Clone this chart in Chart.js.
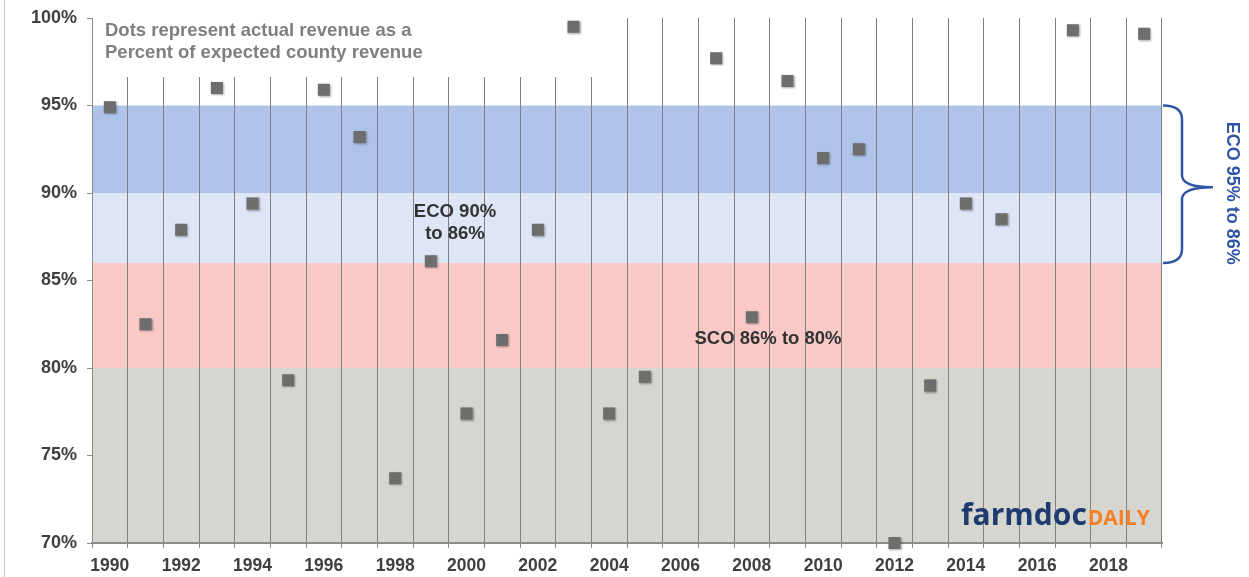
<!DOCTYPE html>
<html>
<head>
<meta charset="utf-8">
<script src="https://cdn.jsdelivr.net/npm/chart.js@4.4.1/dist/chart.umd.min.js"></script>
<style>
  body { margin: 0; background: #fff; }
  #caixa { position: relative; width: 1249px; height: 577px; }
  #moldura { position: absolute; left: 4px; top: 0; width: 1px; height: 577px; background: #c8c8c8; }
</style>
</head>
<body>
<div id="caixa">
  <div id="moldura"></div>
  <canvas id="meuGrafico" width="1249" height="577"></canvas>
</div>
<script>
// anos do eixo x
const anos = ['1990', '1991', '1992', '1993', '1994', '1995', '1996', '1997', '1998', '1999',
  '2000', '2001', '2002', '2003', '2004', '2005', '2006', '2007', '2008', '2009',
  '2010', '2011', '2012', '2013', '2014', '2015', '2016', '2017', '2018', '2019'];

// receita real como % da receita esperada do condado (null = fora do gráfico)
const receita = [94.9, 82.5, 87.9, 96.0, 89.4, 79.3, 95.9, 93.2, 73.7, 86.1,
  77.4, 81.6, 87.9, 99.5, 77.4, 79.5, null, 97.7, 82.9, 96.4,
  92.0, 92.5, 70.0, 79.0, 89.4, 88.5, null, 99.3, null, 99.1];

// faixas de cobertura (topo / base em %)
const faixasTopo = [95, 90, 86, 80];
const faixasBase = [90, 86, 80, 70];
const coresFaixas = ['#adc3e8', '#dde5f6', '#f9c9c6', '#d6d6d1'];

const fonte = '"Liberation Sans", Arial, sans-serif';

// desenha as faixas coloridas atrás de tudo
const fundoFaixas = {
  id: 'fundoFaixas',
  beforeDraw(chart) {
    const { ctx, chartArea, scales: { y } } = chart;
    ctx.save();
    faixasTopo.forEach((topo, i) => {
      const y1 = y.getPixelForValue(topo);
      const y2 = y.getPixelForValue(faixasBase[i]);
      ctx.fillStyle = coresFaixas[i];
      ctx.fillRect(chartArea.left, y1, chartArea.right - chartArea.left, y2 - y1);
    });
    ctx.restore();
  },
  beforeDatasetsDraw(chart) {
    const { ctx, chartArea } = chart;
    ctx.save();
    // caixa branca da nota (as linhas começam abaixo dela)
    ctx.fillStyle = '#fff';
    ctx.fillRect(chartArea.left + 1, chartArea.top - 2, 610 - chartArea.left, 79 - chartArea.top);

    ctx.font = 'bold 18.5px ' + fonte;
    ctx.fillStyle = '#7f7f7f';
    ctx.textAlign = 'left';
    ctx.textBaseline = 'middle';
    ctx.fillText('Dots represent actual revenue as a', 105, 31);
    ctx.fillText('Percent of expected county revenue', 105, 53);

    ctx.fillStyle = '#333';
    ctx.textAlign = 'center';
    ctx.fillText('ECO 90%', 455, 212);
    ctx.fillText('to 86%', 455, 234);
    ctx.fillText('SCO 86% to 80%', 768, 339);
    ctx.restore();
  },
  beforeDatasetDraw(chart) {
    const ctx = chart.ctx;
    ctx.shadowColor = 'rgba(0,0,0,0.35)';
    ctx.shadowBlur = 2;
    ctx.shadowOffsetX = 1;
    ctx.shadowOffsetY = 1;
  },
  afterDatasetDraw(chart) {
    const ctx = chart.ctx;
    ctx.shadowColor = 'transparent';
    ctx.shadowBlur = 0;
    ctx.shadowOffsetX = 0;
    ctx.shadowOffsetY = 0;
  },
  afterDraw(chart) {
    const { ctx, chartArea, scales: { y } } = chart;
    const xr = chartArea.right;
    const yt = y.getPixelForValue(95);
    const yb = y.getPixelForValue(86);
    const ym = (yt + yb) / 2 + 3;
    ctx.save();

    // chave à direita
    ctx.strokeStyle = '#2f55a4';
    ctx.lineWidth = 2.5;
    ctx.beginPath();
    ctx.moveTo(xr + 1, yt);
    ctx.quadraticCurveTo(xr + 20, yt, xr + 20, yt + 14);
    ctx.lineTo(xr + 20, ym - 12);
    ctx.quadraticCurveTo(xr + 20, ym, xr + 51, ym);
    ctx.quadraticCurveTo(xr + 20, ym, xr + 20, ym + 12);
    ctx.lineTo(xr + 20, yb - 14);
    ctx.quadraticCurveTo(xr + 20, yb, xr + 1, yb);
    ctx.stroke();

    ctx.translate(1232, ym + 6);
    ctx.rotate(Math.PI / 2);
    ctx.font = 'bold 18px ' + fonte;
    ctx.fillStyle = '#2f55a4';
    ctx.textAlign = 'center';
    ctx.textBaseline = 'middle';
    ctx.fillText('ECO 95% to 86%', 0, 0);
    ctx.restore();

    // logo farmdocDAILY
    ctx.save();
    ctx.textBaseline = 'alphabetic';
    ctx.textAlign = 'left';
    ctx.font = 'bold 30px "Open Sans", sans-serif';
    ctx.fillStyle = '#1e3a6e';
    ctx.fillText('farmdoc', 961, 525);
    const w = ctx.measureText('farmdoc').width;
    ctx.font = 'bold 21px "Open Sans", sans-serif';
    ctx.fillStyle = '#f58025';
    ctx.fillText('DAILY', 961 + w + 1, 525);
    ctx.restore();
  }
};

const ctx = document.getElementById('meuGrafico').getContext('2d');
new Chart(ctx, {
  type: 'line',
  data: {
    labels: anos,
    datasets: [{
      label: 'Revenue',
      data: receita,
      showLine: false,
      pointStyle: 'rect',
      pointRadius: 8.5,
      pointHoverRadius: 8.5,
      pointBackgroundColor: '#6d6d6d',
      pointBorderWidth: 0,
      clip: false
    }]
  },
  options: {
    responsive: false,
    animation: false,
    events: [],
    layout: { padding: { top: 18, right: 87, left: 0, bottom: 0 } },
    plugins: {
      legend: { display: false },
      tooltip: { enabled: false }
    },
    scales: {
      x: {
        type: 'category',
        offset: true,
        afterFit: (s) => { s.height = 34; },
        grid: {
          offset: true,
          // sem linha na borda direita
          color: (c) => (c.index === anos.length ? 'rgba(0,0,0,0)' : '#7f7f7f'),
          tickColor: '#8c8c8c',
          lineWidth: 1,
          tickLength: 5
        },
        border: { color: '#8c8c8c', width: 2 },
        ticks: {
          autoSkip: false,
          maxRotation: 0,
          padding: 8,
          color: '#404040',
          font: { family: fonte, size: 17.5, weight: 'bold' },
          callback: (val, i) => (i % 2 === 0 ? anos[i] : '')
        }
      },
      y: {
        min: 70,
        max: 100,
        afterFit: (s) => { s.width = 92; s.paddingTop = 10; },
        grid: { drawOnChartArea: false, tickLength: 5, color: '#8c8c8c' },
        border: { color: '#8c8c8c', width: 1 },
        ticks: {
          stepSize: 5,
          padding: 10,
          color: '#404040',
          font: { family: fonte, size: 18, weight: 'bold' },
          callback: (v) => v + '%'
        }
      }
    }
  },
  plugins: [fundoFaixas]
});
</script>
</body>
</html>
